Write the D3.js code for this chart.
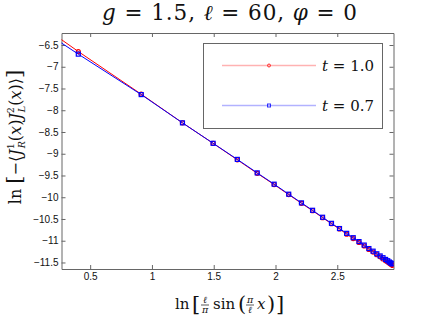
<!DOCTYPE html>
<html>
<head>
<meta charset="utf-8">
<script src="https://cdn.jsdelivr.net/npm/d3@7"></script>
<style>
  body { margin: 0; background: #fff; }
  .tick text { font-family: "Liberation Sans", Arial, sans-serif; font-size: 10px; fill: #111; }
  text.m, text.m tspan { font-family: "DejaVu Serif", serif; }
</style>
</head>
<body>
<div id="chart"></div>
<script>
// values (ln of chord length, ln of correlator)
const xValues = [-0.693, 0.404, 0.913, 1.247, 1.495, 1.691, 1.852, 1.989, 2.107, 2.210,
  2.300, 2.381, 2.453, 2.518, 2.576, 2.629, 2.676, 2.718, 2.756, 2.790,
  2.820, 2.847, 2.870, 2.891, 2.908, 2.922, 2.933, 2.941, 2.947, 2.949];
const yT10 = [-4.45, -6.65, -7.63, -8.29, -8.76, -9.14, -9.45, -9.71, -9.94, -10.14,
  -10.31, -10.47, -10.61, -10.73, -10.85, -10.95, -11.04, -11.12, -11.20, -11.26,
  -11.32, -11.37, -11.42, -11.46, -11.49, -11.52, -11.54, -11.55, -11.56, -11.57];
const yT07 = [-4.65, -6.71, -7.64, -8.29, -8.76, -9.13, -9.44, -9.70, -9.93, -10.13,
  -10.30, -10.46, -10.60, -10.72, -10.83, -10.93, -11.02, -11.10, -11.18, -11.24,
  -11.30, -11.35, -11.39, -11.43, -11.46, -11.49, -11.51, -11.52, -11.53, -11.53];
const xTicks = [0.5, 1, 1.5, 2, 2.5];
const yTicks = [-6.5, -7, -7.5, -8, -8.5, -9, -9.5, -10, -10.5, -11, -11.5];
const seriesNames = ["1.0", "0.7"];

const W = 436, H = 316;
const margin = { top: 33, right: 42.5, bottom: 47, left: 61.5 };
const width = W - margin.left - margin.right;
const height = H - margin.top - margin.bottom;

const svg = d3.select("#chart").append("svg")
  .attr("width", W).attr("height", H);

const g = svg.append("g")
  .attr("transform", `translate(${margin.left},${margin.top})`);

const x = d3.scaleLinear().domain([0.268, 2.955]).range([0, width]);
const y = d3.scaleLinear().domain([-11.65, -6.224]).range([height, 0]);

const fmt = d => String(d).replace("-", "\u2212");

// axes box with inward ticks on all four sides
g.append("g").attr("transform", `translate(0,${height})`)
  .call(d3.axisBottom(x).tickValues(xTicks).tickSize(-4).tickSizeOuter(0).tickPadding(4).tickFormat(fmt));
g.append("g")
  .call(d3.axisTop(x).tickValues(xTicks).tickSize(-4).tickSizeOuter(0).tickFormat(""));
g.append("g")
  .call(d3.axisLeft(y).tickValues(yTicks).tickSize(-4).tickSizeOuter(0).tickPadding(3).tickFormat(fmt));
g.append("g").attr("transform", `translate(${width},0)`)
  .call(d3.axisRight(y).tickValues(yTicks).tickSize(-4).tickSizeOuter(0).tickFormat(""));
g.selectAll(".domain, .tick line").attr("stroke", "#666");

g.append("clipPath").attr("id", "clip")
  .append("rect").attr("width", width).attr("height", height);

const plot = g.append("g").attr("clip-path", "url(#clip)");
const line = d3.line().x((d, i) => x(xValues[i])).y(d => y(d));

// t = 1.0, red circles
plot.append("path").datum(yT10)
  .attr("fill", "none").attr("stroke", "#ff0000").attr("stroke-width", 1).attr("d", line);
plot.selectAll(".c10").data(yT10).enter().append("circle")
  .attr("cx", (d, i) => x(xValues[i])).attr("cy", d => y(d)).attr("r", 2)
  .attr("fill", "none").attr("stroke", "#ff0000").attr("stroke-width", 1.2);

// t = 0.7, blue squares
plot.append("path").datum(yT07)
  .attr("fill", "none").attr("stroke", "#0000ff").attr("stroke-width", 1).attr("d", line);
plot.selectAll(".s07").data(yT07).enter().append("rect")
  .attr("x", (d, i) => x(xValues[i]) - 2).attr("y", d => y(d) - 2)
  .attr("width", 4).attr("height", 4)
  .attr("fill", "none").attr("stroke", "#0000ff").attr("stroke-width", 1.2);

// helper for math text
const mtext = (sel) => sel.append("text").attr("class", "m").attr("fill", "#111");

// legend
const legend = svg.append("g");
legend.append("rect").attr("x", 203.5).attr("y", 43.5).attr("width", 179).attr("height", 85)
  .attr("fill", "#fff").attr("stroke", "#666");
const legColors = ["#ff0000", "#0000ff"];
seriesNames.forEach((name, i) => {
  const ly = 65.5 + i * 40;
  legend.append("line").attr("x1", 222).attr("x2", 316).attr("y1", ly).attr("y2", ly)
    .attr("stroke", legColors[i]).attr("stroke-opacity", 0.3).attr("stroke-width", 1.5);
  if (i === 0) {
    legend.append("circle").attr("cx", 269).attr("cy", ly).attr("r", 1.5)
      .attr("fill", "none").attr("stroke", legColors[i]).attr("stroke-opacity", 0.8);
  } else {
    legend.append("rect").attr("x", 267.5).attr("y", ly - 1.5).attr("width", 3).attr("height", 3)
      .attr("fill", "none").attr("stroke", legColors[i]).attr("stroke-opacity", 0.8);
  }
  const t = mtext(legend).attr("x", 322).attr("y", ly + 5).style("font-size", "15px")
    .attr("textLength", 52).attr("lengthAdjust", "spacing");
  t.append("tspan").style("font-style", "italic").text("t");
  t.append("tspan").text(" = " + name);
});

// title
const title = mtext(svg).attr("x", 102).attr("y", 20).style("font-size", "21.5px")
  .attr("textLength", 255).attr("lengthAdjust", "spacing");
title.append("tspan").style("font-style", "italic").text("g");
title.append("tspan").text(" = 1.5, ");
title.append("tspan").style("font-style", "italic").text("\u2113");
title.append("tspan").text(" = 60, ");
title.append("tspan").style("font-style", "italic").text("\u03c6");
title.append("tspan").text(" = 0");

// x label: ln [ (l/pi) sin ( (pi/l) x ) ]
const xl = svg.append("g").attr("transform", "translate(175,309)");
mtext(xl).attr("x", 0).attr("y", 0).style("font-size", "15px").text("ln");
mtext(xl).attr("x", 17).attr("y", 2).style("font-size", "21px").text("[");
mtext(xl).attr("x", 30).attr("y", -6).attr("text-anchor", "middle").style("font-size", "9.5px").style("font-style", "italic").text("\u2113");
xl.append("line").attr("x1", 26).attr("x2", 34).attr("y1", -4).attr("y2", -4).attr("stroke", "#111").attr("stroke-width", 0.7);
mtext(xl).attr("x", 30).attr("y", 4).attr("text-anchor", "middle").style("font-size", "9.5px").style("font-style", "italic").text("\u03c0");
mtext(xl).attr("x", 38).attr("y", 0).style("font-size", "15px").text("sin");
mtext(xl).attr("x", 63).attr("y", 2).style("font-size", "21px").text("(");
mtext(xl).attr("x", 75).attr("y", -6).attr("text-anchor", "middle").style("font-size", "9.5px").style("font-style", "italic").text("\u03c0");
xl.append("line").attr("x1", 71).attr("x2", 79).attr("y1", -4).attr("y2", -4).attr("stroke", "#111").attr("stroke-width", 0.7);
mtext(xl).attr("x", 75).attr("y", 4).attr("text-anchor", "middle").style("font-size", "9.5px").style("font-style", "italic").text("\u2113");
mtext(xl).attr("x", 82).attr("y", 0).style("font-size", "15px").style("font-style", "italic").text("x");
mtext(xl).attr("x", 92).attr("y", 2).style("font-size", "21px").text(")");
mtext(xl).attr("x", 101).attr("y", 2).style("font-size", "21px").text("]");

// y label, rotated
const yl = mtext(svg).attr("transform", "translate(21,137) rotate(-90)")
  .attr("text-anchor", "middle").style("font-size", "16px");
yl.append("tspan").text("ln ");
yl.append("tspan").style("font-size", "21px").text("[");
yl.append("tspan").text("\u2212\u27e8");
yl.append("tspan").style("font-style", "italic").text("J");
yl.append("tspan").attr("dy", -7).style("font-size", "9.5px").text("1");
yl.append("tspan").attr("dx", -5).attr("dy", 11).style("font-size", "9.5px").style("font-style", "italic").text("R");
yl.append("tspan").attr("dy", -4).text("(");
yl.append("tspan").style("font-style", "italic").text("x");
yl.append("tspan").text(")");
yl.append("tspan").style("font-style", "italic").text("J");
yl.append("tspan").attr("dy", -7).style("font-size", "9.5px").text("2");
yl.append("tspan").attr("dx", -5).attr("dy", 11).style("font-size", "9.5px").style("font-style", "italic").text("L");
yl.append("tspan").attr("dy", -4).text("(");
yl.append("tspan").style("font-style", "italic").text("x");
yl.append("tspan").text(")\u27e9");
yl.append("tspan").style("font-size", "21px").text("]");
</script>
</body>
</html>
